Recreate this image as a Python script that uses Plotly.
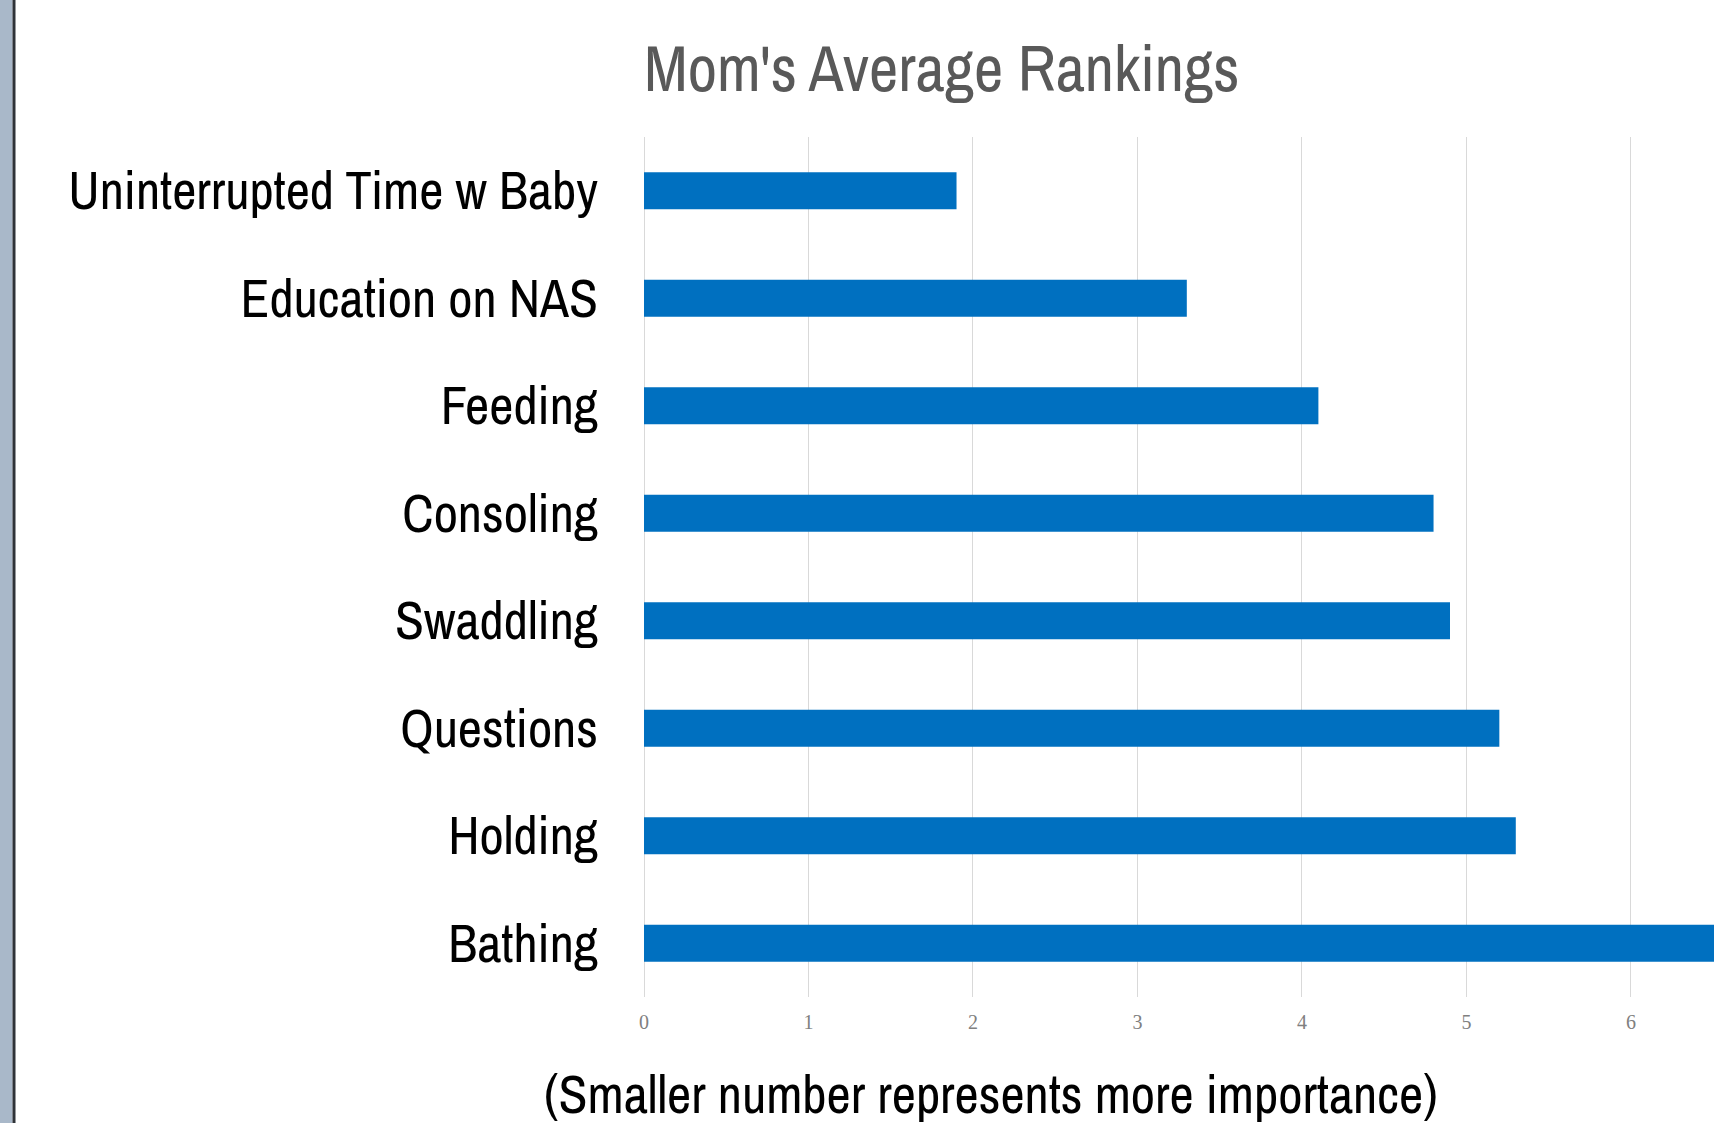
import plotly.graph_objects as go

categories = ["Uninterrupted Time w Baby", "Education on NAS", "Feeding", "Consoling",
              "Swaddling", "Questions", "Holding", "Bathing"]
avg_rank = [1.9, 3.3, 4.1, 4.8, 4.9, 5.2, 5.3, 6.6]
x_ticks = [0, 1, 2, 3, 4, 5, 6]
x_tick_labels = ["0", "1", "2", "3", "4", "5", "6"]
title_text = "Mom's Average Rankings"
x_title_text = "(Smaller number represents more importance)"

W, H = 1714, 1123
ML, MR, MT, MB = 644, 0, 137, 126
PW, PH = W - ML - MR, H - MT - MB

def px_x(p):
    return (p - ML) / PW

def px_y(p):
    return 1 - (p - MT) / PH

NARROW = "Archivo Narrow, Liberation Sans Narrow, Arial Narrow, sans-serif"

fig = go.Figure(go.Bar(
    x=avg_rank, y=categories, orientation="h",
    marker=dict(color="#0070C0", line=dict(width=0)),
))

fig.update_layout(
    width=W, height=H,
    margin=dict(l=ML, r=MR, t=MT, b=MB, pad=0, autoexpand=False),
    paper_bgcolor="white", plot_bgcolor="white",
    showlegend=False,
    bargap=0.656,
    xaxis=dict(range=[0, 6.505], tickvals=x_ticks, ticktext=x_tick_labels,
               showgrid=True, gridcolor="#d9d9d9", gridwidth=1,
               zeroline=True, zerolinecolor="#d9d9d9", zerolinewidth=1,
               showline=False, ticks="", automargin=False,
               tickfont=dict(family="Liberation Serif, Times New Roman, serif", size=20, color="#808080"),
               ticklabelstandoff=11, fixedrange=True),
    yaxis=dict(autorange="reversed", showgrid=False, zeroline=False, showline=False, ticks="",
               automargin=False,
               tickfont=dict(family=NARROW, size=53, color="#000000"),
               ticklabelstandoff=45),
    title=dict(text=title_text, x=px_x(644), xref="paper", xanchor="left",
               y=1 - 69 / H, yref="container", yanchor="middle",
               font=dict(family=NARROW, size=64, color="#595959")),
    annotations=[dict(text=x_title_text, xref="paper", yref="paper",
                      x=px_x(991), y=px_y(1094), xanchor="center", yanchor="middle",
                      showarrow=False,
                      font=dict(family=NARROW, size=53, color="#000000"))],
    shapes=[
        dict(type="rect", xref="paper", yref="paper", x0=px_x(0), x1=px_x(12.5),
             y0=px_y(H + 5), y1=px_y(-5), fillcolor="#a9b8c9", line=dict(width=0), layer="above"),
        dict(type="rect", xref="paper", yref="paper", x0=px_x(12.5), x1=px_x(15.5),
             y0=px_y(H + 5), y1=px_y(-5), fillcolor="#2f3338", line=dict(width=0), layer="above"),
    ],
)

fig.write_html("out.html", config={"displayModeBar": False},
               post_script="document.body.style.margin='0';document.body.style.overflow='hidden';")
